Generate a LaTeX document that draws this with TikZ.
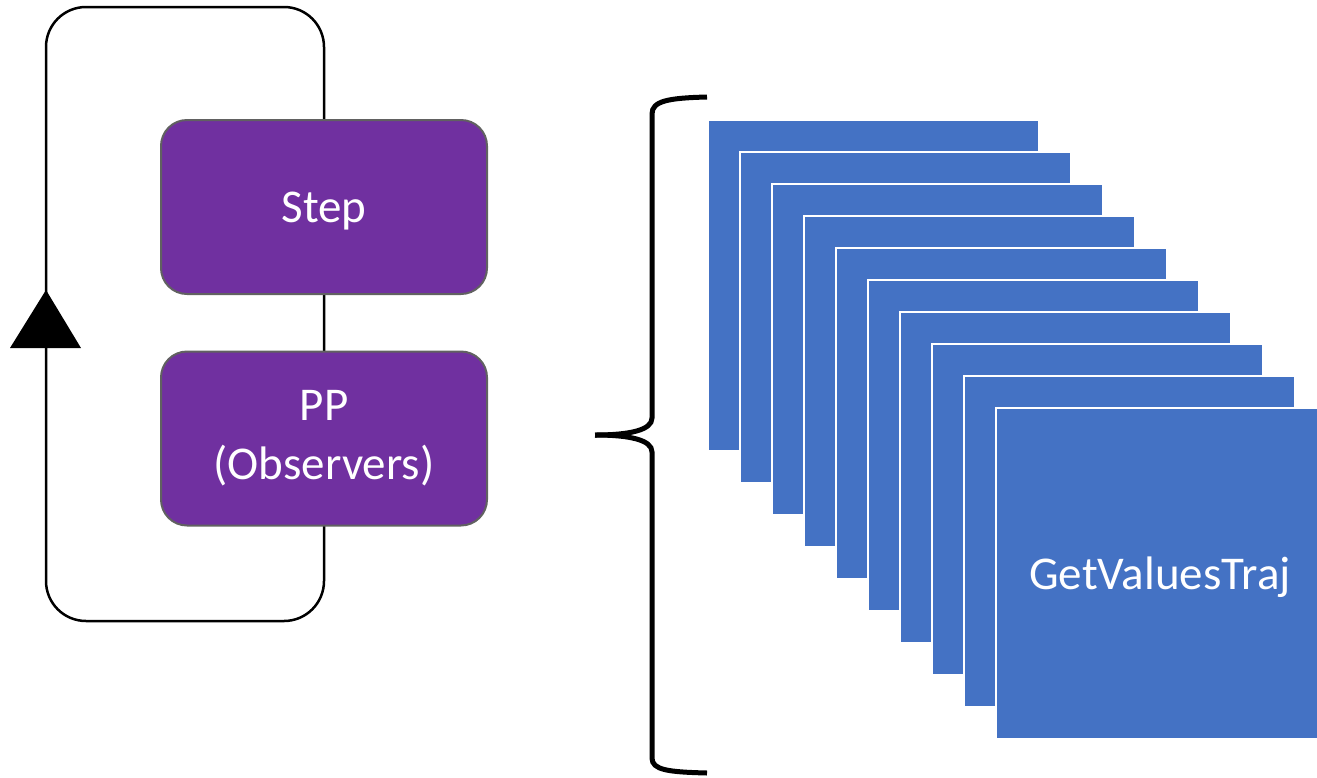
\documentclass[tikz,border=0pt]{standalone}
\usepackage{fontspec}
\setmainfont{Carlito}
\definecolor{procpurple}{HTML}{7030A0}
\definecolor{tileblue}{HTML}{4472C4}
\begin{document}
\begin{tikzpicture}[x=1pt,y=-1pt,
  proc/.style={draw=black!62, line width=2pt, fill=procpurple, rounded corners=26pt,
    minimum width=326pt, minimum height=174pt, text=white, align=center,
    font=\fontsize{47}{59}\selectfont},
  tile/.style={fill=tileblue, draw=white, line width=2.2pt, minimum size=331pt,
    anchor=north west, inner sep=0pt},
  loopline/.style={line width=2.5pt, rounded corners=40pt},
  bracestroke/.style={line width=5pt}]
\useasboundingbox (0,0) rectangle (1317,777);
\clip (0,0) rectangle (1317,777);
% feedback loop behind the two stages
\draw[loopline] (46,7) rectangle (324,621);
\fill (46,290) -- (81,348) -- (10,348) -- cycle;
% stages
\node[proc] (step) at (324,207) {};
\node[text=white, font=\fontsize{47}{59}\selectfont] (steptext) at (324,211) {Step};
\node[proc] (pp) at (324,438.5) {PP\\(Observers)};
% brace
\coordinate (tip) at (595,435);
\draw[bracestroke] (707,97) .. controls (668,98) and (652,101) .. (652,114)
  -- (652,418) .. controls (652,430) and (630,435) .. (tip);
\draw[bracestroke] (tip) .. controls (630,435) and (652,440) .. (652,452)
  -- (652,758) .. controls (652,770) and (668,772) .. (707,773);
% stack of trajectories
\foreach \i in {0,...,8}{
  \node[tile] (tile\i) at ({707+32*\i},{119+32*\i}) {};
}
\node[tile, minimum width=380pt] (tile9) at (995,407) {};
\node[text=white, font=\fontsize{47}{56}\selectfont] (gv) at (1160,577) {GetValuesTraj};
\end{tikzpicture}
\end{document}
